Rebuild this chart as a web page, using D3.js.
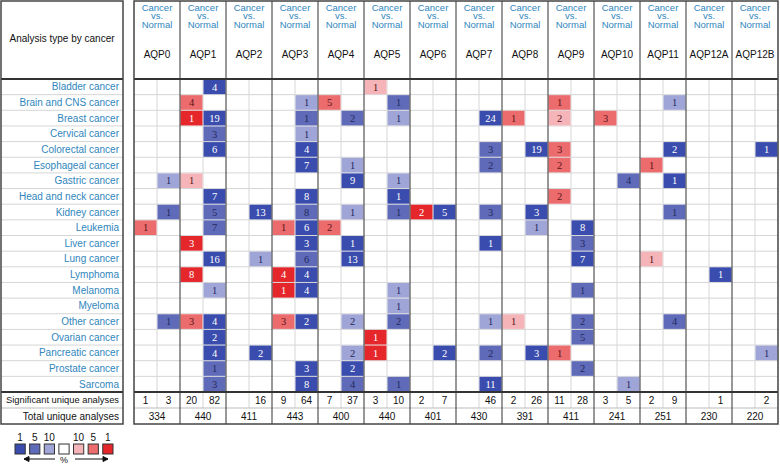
<!DOCTYPE html>
<html>
<head>
<meta charset="utf-8">
<script src="https://cdn.jsdelivr.net/npm/d3@7"></script>
<style>
  body { margin: 0; background: white; }
  svg { display: block; font-family: 'Liberation Sans', Arial, sans-serif; }
</style>
</head>
<body>
<div id="chart"></div>
<script>
const cancers = ['Bladder cancer', 'Brain and CNS cancer', 'Breast cancer', 'Cervical cancer',
  'Colorectal cancer', 'Esophageal cancer', 'Gastric cancer', 'Head and neck cancer',
  'Kidney cancer', 'Leukemia', 'Liver cancer', 'Lung cancer', 'Lymphoma', 'Melanoma',
  'Myeloma', 'Other cancer', 'Ovarian cancer', 'Pancreatic cancer', 'Prostate cancer', 'Sarcoma'];

const genes = ['AQP0', 'AQP1', 'AQP2', 'AQP3', 'AQP4', 'AQP5', 'AQP6', 'AQP7', 'AQP8',
  'AQP9', 'AQP10', 'AQP11', 'AQP12A', 'AQP12B'];

// significant analyses: over (red) / under (blue)
const sigOver = [1, 20, '', 9, 7, 3, 2, '', 2, 11, 3, 2, '', ''];
const sigUnder = [3, 82, 16, 64, 37, 10, 7, 46, 26, 28, 5, 9, 1, 2];
const totals = [334, 440, 411, 443, 400, 440, 401, 430, 391, 411, 241, 251, 230, 220];

const legendLabels = ['1', '5', '10', '', '10', '5', '1'];

// [cancer index, gene, 'over'|'under', analyses, rank level 1=top 1%, 2=5%, 3=10%]
const cells = [
  [0, 'AQP1', 'under', 4, 1], [0, 'AQP5', 'over', 1, 3],
  [1, 'AQP1', 'over', 4, 2], [1, 'AQP3', 'under', 1, 3], [1, 'AQP4', 'over', 5, 2],
  [1, 'AQP5', 'under', 1, 2], [1, 'AQP9', 'over', 1, 2], [1, 'AQP11', 'under', 1, 3],
  [2, 'AQP1', 'over', 1, 1], [2, 'AQP1', 'under', 19, 1], [2, 'AQP3', 'under', 1, 2],
  [2, 'AQP4', 'under', 2, 2], [2, 'AQP5', 'under', 1, 3], [2, 'AQP7', 'under', 24, 1],
  [2, 'AQP8', 'over', 1, 2], [2, 'AQP9', 'over', 2, 3], [2, 'AQP10', 'over', 3, 2],
  [3, 'AQP1', 'under', 3, 2], [3, 'AQP3', 'under', 1, 3],
  [4, 'AQP1', 'under', 6, 1], [4, 'AQP3', 'under', 4, 1], [4, 'AQP7', 'under', 3, 2],
  [4, 'AQP8', 'under', 19, 1], [4, 'AQP9', 'over', 3, 2], [4, 'AQP11', 'under', 2, 1],
  [4, 'AQP12B', 'under', 1, 1],
  [5, 'AQP3', 'under', 7, 1], [5, 'AQP4', 'under', 1, 3], [5, 'AQP7', 'under', 2, 2],
  [5, 'AQP9', 'over', 2, 2], [5, 'AQP11', 'over', 1, 2],
  [6, 'AQP0', 'under', 1, 3], [6, 'AQP1', 'over', 1, 3], [6, 'AQP4', 'under', 9, 1],
  [6, 'AQP5', 'under', 1, 3], [6, 'AQP10', 'under', 4, 2], [6, 'AQP11', 'under', 1, 1],
  [7, 'AQP1', 'under', 7, 1], [7, 'AQP3', 'under', 8, 1], [7, 'AQP5', 'under', 1, 1],
  [7, 'AQP9', 'over', 2, 2],
  [8, 'AQP0', 'under', 1, 2], [8, 'AQP1', 'under', 5, 2], [8, 'AQP2', 'under', 13, 1],
  [8, 'AQP3', 'under', 8, 2], [8, 'AQP4', 'under', 1, 3], [8, 'AQP5', 'under', 1, 2],
  [8, 'AQP6', 'over', 2, 1], [8, 'AQP6', 'under', 5, 1], [8, 'AQP7', 'under', 3, 2],
  [8, 'AQP8', 'under', 3, 1], [8, 'AQP11', 'under', 1, 2],
  [9, 'AQP0', 'over', 1, 2], [9, 'AQP1', 'under', 7, 2], [9, 'AQP3', 'over', 1, 2],
  [9, 'AQP3', 'under', 6, 1], [9, 'AQP4', 'over', 2, 2], [9, 'AQP8', 'under', 1, 3],
  [9, 'AQP9', 'under', 8, 1],
  [10, 'AQP1', 'over', 3, 1], [10, 'AQP3', 'under', 3, 1], [10, 'AQP4', 'under', 1, 1],
  [10, 'AQP7', 'under', 1, 1], [10, 'AQP9', 'under', 3, 2],
  [11, 'AQP1', 'under', 16, 1], [11, 'AQP2', 'under', 1, 3], [11, 'AQP3', 'under', 6, 2],
  [11, 'AQP4', 'under', 13, 1], [11, 'AQP9', 'under', 7, 1], [11, 'AQP11', 'over', 1, 3],
  [12, 'AQP1', 'over', 8, 1], [12, 'AQP3', 'over', 4, 1], [12, 'AQP3', 'under', 4, 1],
  [12, 'AQP12A', 'under', 1, 1],
  [13, 'AQP1', 'under', 1, 3], [13, 'AQP3', 'over', 1, 1], [13, 'AQP3', 'under', 4, 1],
  [13, 'AQP5', 'under', 1, 3], [13, 'AQP9', 'under', 1, 2],
  [14, 'AQP5', 'under', 1, 3],
  [15, 'AQP0', 'under', 1, 2], [15, 'AQP1', 'over', 3, 2], [15, 'AQP1', 'under', 4, 1],
  [15, 'AQP3', 'over', 3, 2], [15, 'AQP3', 'under', 2, 1], [15, 'AQP4', 'under', 2, 3],
  [15, 'AQP5', 'under', 2, 2], [15, 'AQP7', 'under', 1, 3], [15, 'AQP8', 'over', 1, 3],
  [15, 'AQP9', 'under', 2, 2], [15, 'AQP11', 'under', 4, 2],
  [16, 'AQP1', 'under', 2, 1], [16, 'AQP5', 'over', 1, 1], [16, 'AQP9', 'under', 5, 2],
  [17, 'AQP1', 'under', 4, 1], [17, 'AQP2', 'under', 2, 1], [17, 'AQP4', 'under', 2, 3],
  [17, 'AQP5', 'over', 1, 1], [17, 'AQP6', 'under', 2, 1], [17, 'AQP7', 'under', 2, 2],
  [17, 'AQP8', 'under', 3, 1], [17, 'AQP9', 'over', 1, 2], [17, 'AQP12B', 'under', 1, 3],
  [18, 'AQP1', 'under', 1, 2], [18, 'AQP3', 'under', 3, 1], [18, 'AQP4', 'under', 2, 1],
  [18, 'AQP9', 'under', 2, 2],
  [19, 'AQP1', 'under', 3, 2], [19, 'AQP3', 'under', 8, 1], [19, 'AQP4', 'under', 4, 2],
  [19, 'AQP5', 'under', 1, 2], [19, 'AQP7', 'under', 11, 1], [19, 'AQP10', 'under', 1, 3]
];

const
  blues = ['#3a4cad', '#5f6bb9', '#a0a5d8'],
  reds = ['#e5262b', '#ec6b6d', '#f5b4b8'],
  labelColor = '#2f86bd',
  W = 780,
  H = 464,
  tableLeft = 134,
  tableRight = 778,
  headerBottom = 79,
  rowsBottom = 392,
  rowH2 = 16;

function cellColor(d) {
  return d[2] === 'over' ? reds[d[4] - 1] : blues[d[4] - 1];
}

function textColor(d) {
  if (d[4] === 1) { return 'white'; }
  return d[2] === 'over' ? '#5a1518' : '#23285e';
}

let
  svg,
  x,
  sub,
  y,
  legend;

svg = d3.select('#chart')
  .append('svg')
  .attr('width', W)
  .attr('height', H);

x = d3.scaleBand()
  .domain(genes)
  .range([tableLeft, tableRight]);

sub = d3.scaleBand()
  .domain(['over', 'under'])
  .range([0, x.bandwidth()]);

y = d3.scaleBand()
  .domain(d3.range(cancers.length))
  .range([headerBottom, rowsBottom]);

// light grid
let grid = svg.append('g')
  .attr('stroke', '#d6d6d6')
  .attr('stroke-width', 1);

grid.selectAll('line.h')
  .data(d3.range(1, cancers.length))
  .enter().append('line')
  .attr('x1', tableLeft)
  .attr('x2', tableRight)
  .attr('y1', function (d) { return y(d); })
  .attr('y2', function (d) { return y(d); });

grid.selectAll('line.v')
  .data(genes)
  .enter().append('line')
  .attr('x1', function (d) { return x(d) + sub('under'); })
  .attr('x2', function (d) { return x(d) + sub('under'); })
  .attr('y1', headerBottom)
  .attr('y2', rowsBottom + rowH2);

svg.append('line')
  .attr('stroke', '#bbb')
  .attr('x1', tableLeft)
  .attr('x2', tableRight)
  .attr('y1', rowsBottom + rowH2)
  .attr('y2', rowsBottom + rowH2);

// left panel grid lines
svg.selectAll('line.lh')
  .data(d3.range(1, cancers.length))
  .enter().append('line')
  .attr('stroke', '#d6d6d6')
  .attr('x1', 1)
  .attr('x2', 123)
  .attr('y1', function (d) { return y(d); })
  .attr('y2', function (d) { return y(d); });

svg.append('line')
  .attr('stroke', '#bbb')
  .attr('x1', 1)
  .attr('x2', 123)
  .attr('y1', rowsBottom + rowH2)
  .attr('y2', rowsBottom + rowH2);

// cells
let cell = svg.selectAll('g.cell')
  .data(cells)
  .enter().append('g')
  .attr('transform', function (d) {
    return 'translate(' + (x(d[1]) + sub(d[2])) + ',' + y(d[0]) + ')';
  });

cell.append('rect')
  .attr('x', 0.5)
  .attr('y', 0.5)
  .attr('width', sub.bandwidth() - 1)
  .attr('height', y.bandwidth() - 1)
  .attr('fill', cellColor);

cell.append('text')
  .attr('x', sub.bandwidth() / 2)
  .attr('y', y.bandwidth() / 2)
  .attr('dy', '0.36em')
  .attr('text-anchor', 'middle')
  .attr('font-family', "'Liberation Serif', serif")
  .attr('font-size', 10.5)
  .attr('fill', textColor)
  .text(function (d) { return d[3]; });

// gene separators
svg.selectAll('line.gene')
  .data(genes.slice(1))
  .enter().append('line')
  .attr('stroke', '#333')
  .attr('stroke-width', 1)
  .attr('x1', function (d) { return x(d); })
  .attr('x2', function (d) { return x(d); })
  .attr('y1', 1)
  .attr('y2', 424);

// header / footer rules
[headerBottom, rowsBottom].forEach(function (yy) {
  svg.append('line')
    .attr('stroke', '#333')
    .attr('stroke-width', 2)
    .attr('x1', 1).attr('x2', 123)
    .attr('y1', yy).attr('y2', yy);
  svg.append('line')
    .attr('stroke', '#333')
    .attr('stroke-width', 2)
    .attr('x1', tableLeft).attr('x2', tableRight)
    .attr('y1', yy).attr('y2', yy);
});

// borders
svg.append('rect')
  .attr('x', 1).attr('y', 1)
  .attr('width', 122).attr('height', 423)
  .attr('fill', 'none')
  .attr('stroke', '#444')
  .attr('stroke-width', 1.5);

svg.append('rect')
  .attr('x', tableLeft).attr('y', 1)
  .attr('width', tableRight - tableLeft).attr('height', 423)
  .attr('fill', 'none')
  .attr('stroke', '#444')
  .attr('stroke-width', 1.5);

// header text
svg.append('text')
  .attr('x', 62)
  .attr('y', 42)
  .attr('text-anchor', 'middle')
  .attr('font-size', 10)
  .attr('fill', '#111')
  .text('Analysis type by cancer');

let head = svg.selectAll('g.head')
  .data(genes)
  .enter().append('g')
  .attr('transform', function (d) { return 'translate(' + (x(d) + x.bandwidth() / 2) + ',0)'; })
  .attr('text-anchor', 'middle')
  .attr('font-size', 9.5);

[['Cancer', 10.5], ['vs.', 19], ['Normal', 27.5]].forEach(function (t) {
  head.append('text')
    .attr('y', t[1])
    .attr('fill', labelColor)
    .text(t[0]);
});

head.append('text')
  .attr('y', 58)
  .attr('font-size', 10)
  .attr('fill', '#111')
  .text(function (d) { return d; });

// row labels
svg.selectAll('text.row')
  .data(cancers)
  .enter().append('text')
  .attr('x', 119)
  .attr('y', function (d, i) { return y(i) + y.bandwidth() / 2; })
  .attr('dy', '0.35em')
  .attr('text-anchor', 'end')
  .attr('font-size', 10)
  .attr('fill', labelColor)
  .text(String);

svg.append('text')
  .attr('x', 119)
  .attr('y', rowsBottom + rowH2 / 2)
  .attr('dy', '0.35em')
  .attr('text-anchor', 'end')
  .attr('font-size', 9.5)
  .attr('textLength', 113)
  .attr('lengthAdjust', 'spacingAndGlyphs')
  .attr('fill', '#111')
  .text('Significant unique analyses');

svg.append('text')
  .attr('x', 119)
  .attr('y', rowsBottom + rowH2 * 1.5)
  .attr('dy', '0.35em')
  .attr('text-anchor', 'end')
  .attr('font-size', 10)
  .attr('fill', '#111')
  .text('Total unique analyses');

// summary numbers
svg.selectAll('text.so')
  .data(sigOver)
  .enter().append('text')
  .attr('x', function (d, i) { return x(genes[i]) + sub('over') + sub.bandwidth() / 2; })
  .attr('y', rowsBottom + rowH2 / 2)
  .attr('dy', '0.35em')
  .attr('text-anchor', 'middle')
  .attr('font-size', 10)
  .attr('fill', '#111')
  .text(String);

svg.selectAll('text.su')
  .data(sigUnder)
  .enter().append('text')
  .attr('x', function (d, i) { return x(genes[i]) + sub('under') + sub.bandwidth() / 2; })
  .attr('y', rowsBottom + rowH2 / 2)
  .attr('dy', '0.35em')
  .attr('text-anchor', 'middle')
  .attr('font-size', 10)
  .attr('fill', '#111')
  .text(String);

svg.selectAll('text.tot')
  .data(totals)
  .enter().append('text')
  .attr('x', function (d, i) { return x(genes[i]) + x.bandwidth() / 2; })
  .attr('y', rowsBottom + rowH2 * 1.5)
  .attr('dy', '0.35em')
  .attr('text-anchor', 'middle')
  .attr('font-size', 10)
  .attr('fill', '#111')
  .text(String);

// legend
let legendColors = [blues[0], blues[1], blues[2], 'white', reds[2], reds[1], reds[0]];

let lx = d3.scaleBand()
  .domain(d3.range(legendLabels.length))
  .range([15, 113])
  .paddingInner(0.3);

legend = svg.append('g');

legend.selectAll('rect')
  .data(legendColors)
  .enter().append('rect')
  .attr('x', function (d, i) { return lx(i); })
  .attr('y', 444)
  .attr('width', lx.bandwidth())
  .attr('height', 10)
  .attr('fill', function (d) { return d; })
  .attr('stroke', '#333')
  .attr('stroke-width', 1);

legend.selectAll('text')
  .data(legendLabels)
  .enter().append('text')
  .attr('x', function (d, i) { return lx(i) + lx.bandwidth() / 2; })
  .attr('y', 441)
  .attr('text-anchor', 'middle')
  .attr('font-size', 10)
  .attr('fill', '#111')
  .text(String);

legend.append('text')
  .attr('x', 64)
  .attr('y', 463)
  .attr('text-anchor', 'middle')
  .attr('font-size', 9)
  .attr('fill', '#111')
  .text('%');

legend.append('path')
  .attr('d', 'M55,459H24M24,459l5,-2.5v5z')
  .attr('stroke', '#111')
  .attr('fill', '#111');

legend.append('path')
  .attr('d', 'M75,459H108M108,459l-5,-2.5v5z')
  .attr('stroke', '#111')
  .attr('fill', '#111');
</script>
</body>
</html>
